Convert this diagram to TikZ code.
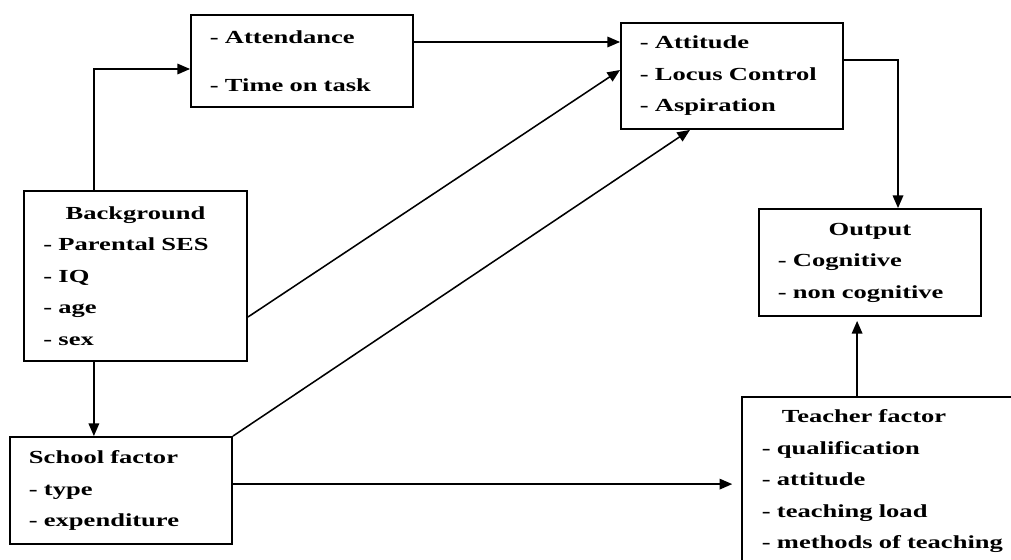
\documentclass[tikz,border=0pt]{standalone}
\usepackage{fontspec}
\setmainfont{Liberation Serif}[FakeStretch=1.44]
\usetikzlibrary{arrows.meta}

\tikzstyle{box} = [rectangle, draw=black, line width=1.3pt, inner sep=0pt, align=left, minimum width=5.55cm, text width=4.6cm, font=\fontsize{13.1}{22.4}\selectfont\bfseries]
\tikzstyle{arr} = [-{Triangle[length=9pt,width=7.5pt]}, line width=1.1pt]

\begin{document}
\begin{tikzpicture}[x=0.025cm, y=-0.025cm]
        \useasboundingbox (0,0) rectangle (1011,559);
        \clip (0,0) rectangle (1011,559);
        \node (att) [box, minimum height=2.3cm] at (302,61) {- Attendance\\[11.6pt]- Time on task};
        \node (attd) [box, minimum height=2.65cm] at (732,76) {- Attitude\\- Locus Control\\- Aspiration};
        \node (bg) [box, minimum height=4.25cm, minimum width=5.575cm] at (135.5,276) {\makebox[4.6cm]{Background}\\- Parental SES\\- IQ\\- age\\- sex};
        \node (out) [box, minimum height=2.675cm] at (870,262.5) {\makebox[4.6cm]{Output}\\- Cognitive\\- non cognitive};
        \node (sch) [box, minimum height=2.675cm] at (121,490.5) {School factor\\- type\\- expenditure};
        \node (tch) [box, minimum height=4.225cm, minimum width=7.075cm, text width=6.075cm] at (883.5,481.5) {\hspace*{0.5cm}Teacher factor\\- qualification\\- attitude\\- teaching load\\- methods of teaching};

        \draw [arr] ([xshift=-1.04cm]bg.north) |- ([yshift=-0.2cm]att.west);
        \draw [arr] ([yshift=0.475cm]att.east) -- ([yshift=0.475cm]att.east -| attd.west);
        \draw [arr] ([yshift=-1.025cm]bg.east) -- ([yshift=0.15cm]attd.west);
        \draw [arr] (sch.north east) -- ([xshift=-1.05cm]attd.south);
        \draw [arr] ([xshift=-1.04cm]bg.south) -- ([xshift=-1.04cm]bg.south |- sch.north);
        \draw [arr] ([yshift=0.4cm]attd.east) -| ([xshift=0.7cm]out.north);
        \draw [arr, shorten >=0.1cm] ([xshift=-0.66cm]tch.north) -- ([xshift=-0.66cm]tch.north |- out.south);
        \draw [arr, shorten >=0.22cm] ([yshift=0.16cm]sch.east) -- ([yshift=0.16cm]sch.east -| tch.west);
\end{tikzpicture}
\end{document}
